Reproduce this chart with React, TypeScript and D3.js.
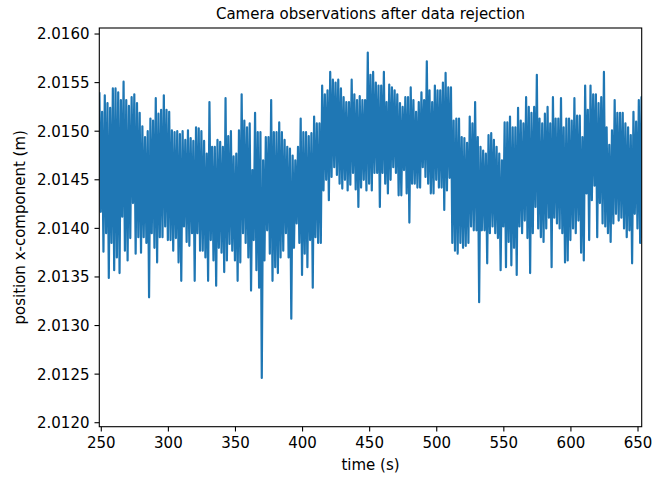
import React from "react";
import * as d3 from "d3";

// Camera x-position record, summarised as alternating upper / lower excursions
// sampled every 2 s (upper at t, lower at t + 1 s).
const SAMPLE_START = 248.6; // s
const SAMPLE_STEP = 2; // s

const upper: number[] = [
  2.0154, 2.0152, 2.01537, 2.01529, 2.01524, 2.01544, 2.01544, 2.0154, 2.01532, 2.01551,
  2.01532, 2.01526, 2.01535, 2.01538, 2.01529, 2.01519, 2.01505, 2.01494, 2.015, 2.01513,
  2.01511, 2.01534, 2.01518, 2.01522, 2.01537, 2.01522, 2.0152, 2.01501, 2.01499, 2.015,
  2.01497, 2.015, 2.01491, 2.01501, 2.01493, 2.0149, 2.01504, 2.01503, 2.015, 2.0149,
  2.01477, 2.0153, 2.01484, 2.01484, 2.01491, 2.01489, 2.01484, 2.01534, 2.01495, 2.015,
  2.01474, 2.01477, 2.01501, 2.01538, 2.01511, 2.01504, 2.01508, 2.0146, 2.01519, 2.01499,
  2.01499, 2.0147, 2.01494, 2.01494, 2.01532, 2.01499, 2.01499, 2.01509, 2.01499, 2.01491,
  2.01484, 2.01482, 2.01475, 2.0147, 2.01484, 2.01513, 2.01499, 2.01499, 2.01495, 2.01498,
  2.01515, 2.01508, 2.01508, 2.01547, 2.01538, 2.01542, 2.01561, 2.01553, 2.0155, 2.01553,
  2.01544, 2.01535, 2.0153, 2.0153, 2.01553, 2.01538, 2.01532, 2.01536, 2.01532, 2.01532,
  2.01581, 2.01558, 2.01561, 2.0155, 2.01547, 2.01547, 2.01561, 2.0153, 2.01548, 2.01545,
  2.01542, 2.01538, 2.01529, 2.01525, 2.01535, 2.01535, 2.01545, 2.01532, 2.0152, 2.0153,
  2.0154, 2.01532, 2.01572, 2.01542, 2.0153, 2.01547, 2.01542, 2.01542, 2.0155, 2.0156,
  2.01545, 2.01545, 2.01511, 2.01513, 2.01513, 2.01494, 2.01493, 2.01488, 2.01515, 2.01508,
  2.0153, 2.01494, 2.01484, 2.0148, 2.01477, 2.01496, 2.01498, 2.01491, 2.01484, 2.01477,
  2.0147, 2.01509, 2.01509, 2.01515, 2.01504, 2.01504, 2.01524, 2.01511, 2.01508, 2.01535,
  2.01525, 2.01519, 2.01525, 2.01558, 2.01513, 2.01508, 2.01518, 2.01525, 2.01508, 2.01535,
  2.01513, 2.01513, 2.01534, 2.01504, 2.01513, 2.01513, 2.01511, 2.01534, 2.01516, 2.01516,
  2.01494, 2.01547, 2.01522, 2.01547, 2.01538, 2.01538, 2.01529, 2.01535, 2.01561, 2.01504,
  2.01486, 2.01501, 2.01532, 2.01519, 2.01519, 2.01519, 2.01508, 2.01504, 2.01496, 2.0152,
  2.0151, 2.01532, 2.01535,
];

const lower: number[] = [
  2.01417, 2.01376, 2.01395, 2.01349, 2.01385, 2.01357, 2.0137, 2.01354, 2.01412, 2.01377,
  2.01367, 2.0139, 2.01426, 2.01374, 2.01391, 2.01375, 2.01391, 2.01385, 2.01329, 2.01395,
  2.0138, 2.01365, 2.01391, 2.01391, 2.01402, 2.01388, 2.01388, 2.01377, 2.0139, 2.01365,
  2.01346, 2.01402, 2.01386, 2.01382, 2.01395, 2.01346, 2.01395, 2.01377, 2.01377, 2.0137,
  2.01346, 2.01388, 2.01367, 2.01341, 2.0138, 2.01375, 2.01355, 2.01367, 2.01384, 2.01377,
  2.01367, 2.01346, 2.01365, 2.01395, 2.01385, 2.0137, 2.01336, 2.01388, 2.01357, 2.01339,
  2.01246, 2.01367, 2.01398, 2.01374, 2.01346, 2.0136, 2.01354, 2.0137, 2.01377, 2.01395,
  2.0137, 2.01307, 2.0138, 2.01405, 2.01385, 2.01352, 2.01374, 2.0136, 2.01388, 2.01339,
  2.01391, 2.01385, 2.01385, 2.01439, 2.0145, 2.01429, 2.01453, 2.01463, 2.01455, 2.01446,
  2.01441, 2.0145, 2.01439, 2.01445, 2.01457, 2.0144, 2.01422, 2.01442, 2.0145, 2.01439,
  2.01446, 2.01439, 2.01457, 2.01457, 2.01422, 2.01457, 2.01446, 2.01436, 2.0145, 2.01463,
  2.01457, 2.01434, 2.01434, 2.0146, 2.01436, 2.01406, 2.01446, 2.01446, 2.01442, 2.01442,
  2.01463, 2.01453, 2.01446, 2.01436, 2.01436, 2.0145, 2.01442, 2.01442, 2.01419, 2.01439,
  2.01452, 2.01385, 2.01377, 2.01374, 2.01385, 2.0138, 2.01382, 2.01385, 2.01402, 2.01398,
  2.01398, 2.01324, 2.01398, 2.01398, 2.01364, 2.01395, 2.01402, 2.01395, 2.0139, 2.01357,
  2.01402, 2.0136, 2.01386, 2.01362, 2.0138, 2.01352, 2.01402, 2.01395, 2.01408, 2.0139,
  2.01354, 2.01395, 2.01422, 2.014, 2.01391, 2.01386, 2.014, 2.01411, 2.0136, 2.01411,
  2.01405, 2.014, 2.01395, 2.01365, 2.01367, 2.01388, 2.014, 2.01395, 2.01408, 2.01375,
  2.01367, 2.01436, 2.01388, 2.01429, 2.01444, 2.01391, 2.01426, 2.01405, 2.01402, 2.01395,
  2.01386, 2.01405, 2.01415, 2.01408, 2.01411, 2.014, 2.01391, 2.01398, 2.01364, 2.01415,
  2.014, 2.01385, 2.0139,
];

const xTicks: number[] = [250, 300, 350, 400, 450, 500, 550, 600, 650];
const yTicks: number[] = [2.012, 2.0125, 2.013, 2.0135, 2.014, 2.0145, 2.015, 2.0155, 2.016];

const TITLE = "Camera observations after data rejection";
const X_LABEL = "time (s)";
const Y_LABEL = "position x-component (m)";

const W = 652;
const H = 477;
const plot = { left: 99.3, right: 641.7, top: 28, bottom: 426.7 };
const FONT = "'DejaVu Sans', sans-serif";
const LINE_COLOR = "#1f77b4";

export default function App() {
  const x = d3.scaleLinear().domain([248.51, 652.75]).range([plot.left, plot.right]);
  const y = d3.scaleLinear().domain([2.011959, 2.016062]).range([plot.bottom, plot.top]);

  const points: [number, number][] = [];
  upper.forEach((u, i) => {
    const t = SAMPLE_START + i * SAMPLE_STEP;
    points.push([t, u]);
    if (i < lower.length) points.push([t + SAMPLE_STEP / 2, lower[i]]);
  });

  const line = d3
    .line<[number, number]>()
    .x((d) => x(d[0]))
    .y((d) => y(d[1]));

  const tickLen = 4.8;

  return (
    <svg
      width={W}
      height={H}
      style={{ position: "absolute", left: 0, top: 0, display: "block", background: "#fff" }}
      fontFamily={FONT}
    >
      <defs>
        <clipPath id="plot-clip">
          <rect
            x={plot.left}
            y={plot.top}
            width={plot.right - plot.left}
            height={plot.bottom - plot.top}
          />
        </clipPath>
      </defs>

      <path
        d={line(points) ?? ""}
        fill="none"
        stroke={LINE_COLOR}
        strokeWidth={2.2}
        strokeLinejoin="round"
        clipPath="url(#plot-clip)"
      />

      {/* frame */}
      <rect
        x={plot.left}
        y={plot.top}
        width={plot.right - plot.left}
        height={plot.bottom - plot.top}
        fill="none"
        stroke="#000"
        strokeWidth={1.1}
      />

      {/* y axis */}
      {yTicks.map((v) => (
        <g key={`y${v}`}>
          <line x1={plot.left - tickLen} x2={plot.left} y1={y(v)} y2={y(v)} stroke="#000" strokeWidth={1.1} />
          <text x={plot.left - 9.8} y={y(v)} dy="0.36em" textAnchor="end" fontSize={15} fill="#000">
            {v.toFixed(4)}
          </text>
        </g>
      ))}

      {/* x axis */}
      {xTicks.map((v) => (
        <g key={`x${v}`}>
          <line x1={x(v)} x2={x(v)} y1={plot.bottom} y2={plot.bottom + tickLen} stroke="#000" strokeWidth={1.1} />
          <text x={x(v)} y={448.3} textAnchor="middle" fontSize={15} fill="#000">
            {v}
          </text>
        </g>
      ))}

      <text x={(plot.left + plot.right) / 2} y={469.5} textAnchor="middle" fontSize={15} fill="#000">
        {X_LABEL}
      </text>

      <text
        transform={`translate(24.5, ${(plot.top + plot.bottom) / 2}) rotate(-90)`}
        textAnchor="middle"
        fontSize={15}
        fill="#000"
      >
        {Y_LABEL}
      </text>

      <text x={(plot.left + plot.right) / 2} y={19.3} textAnchor="middle" fontSize={15} fill="#000">
        {TITLE}
      </text>
    </svg>
  );
}
